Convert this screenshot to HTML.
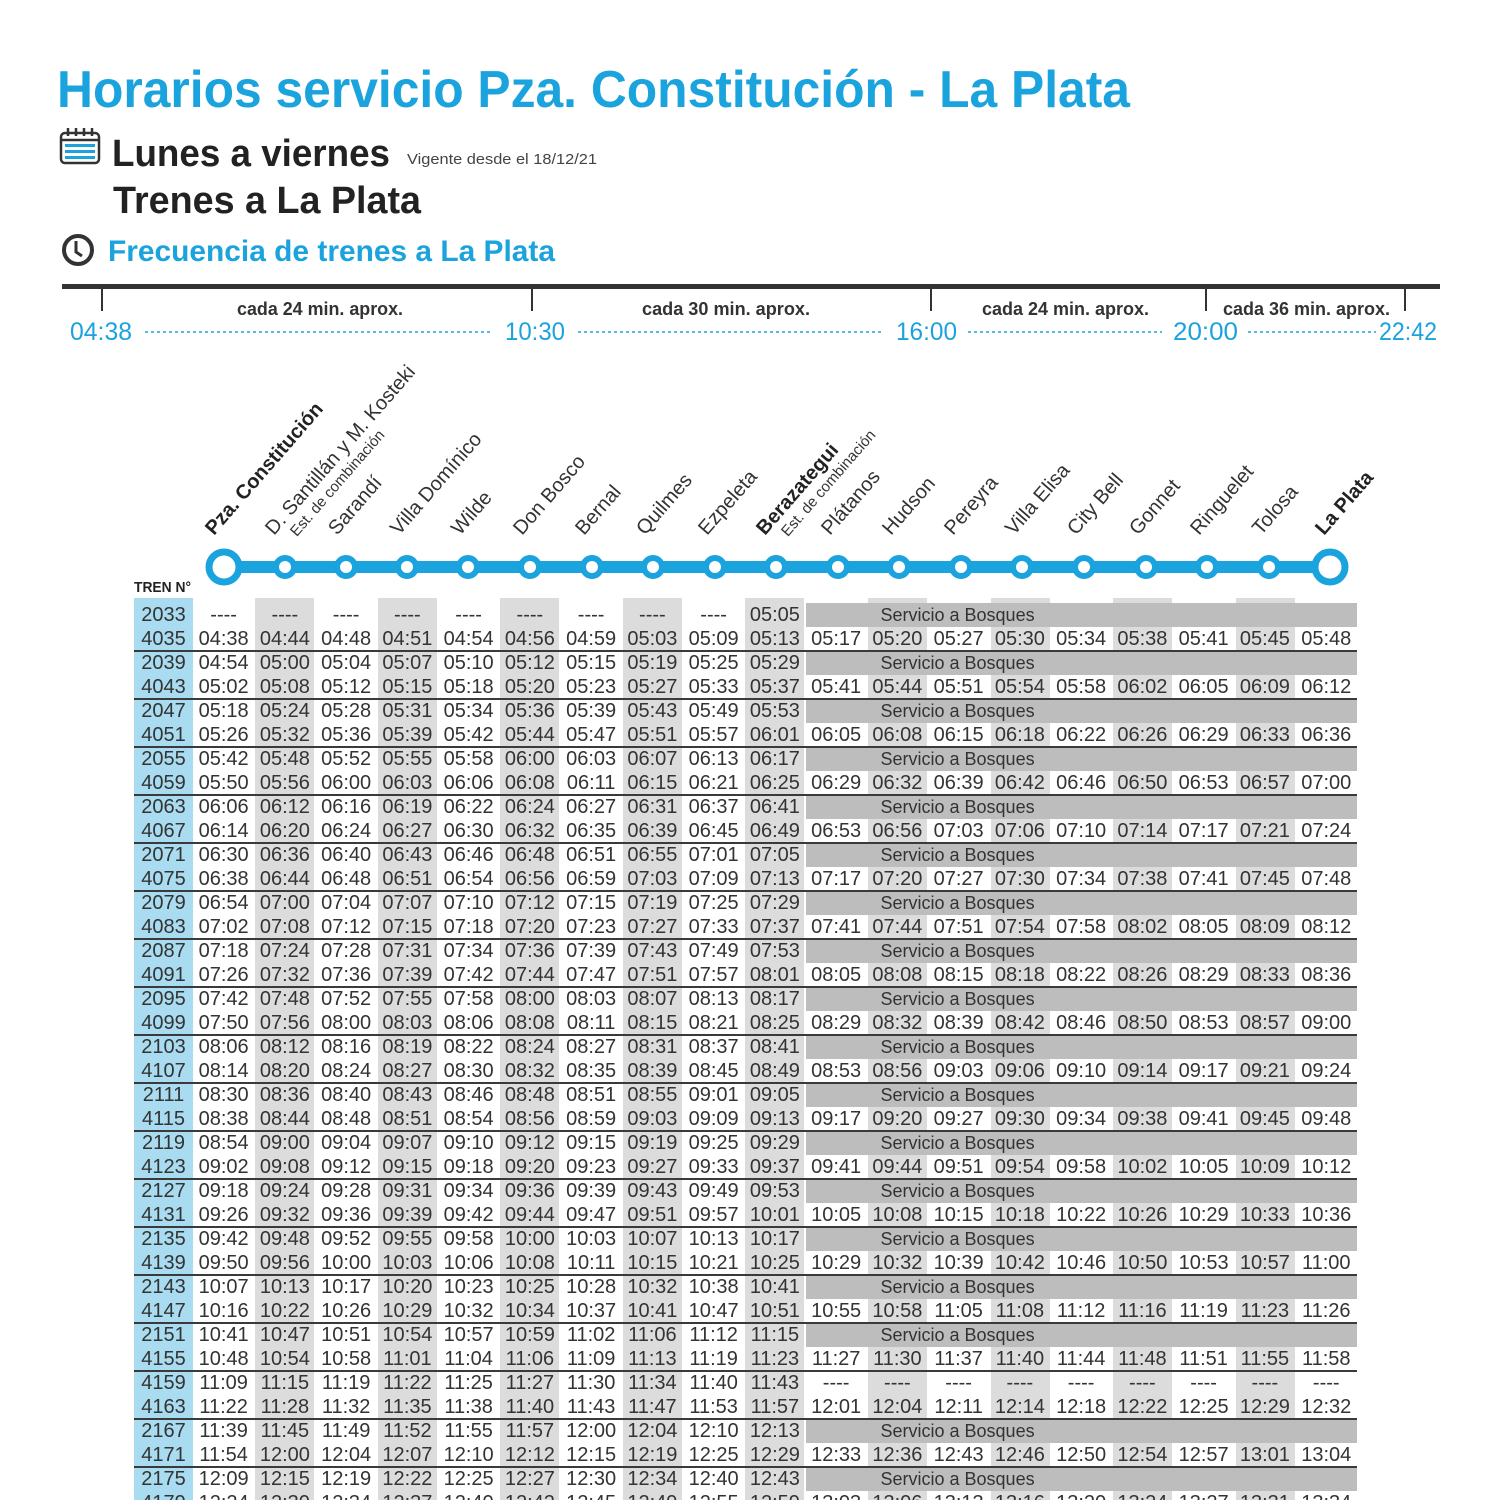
<!DOCTYPE html>
<html><head><meta charset="utf-8">
<style>
html,body{margin:0;padding:0;overflow:hidden;}
#wrap{width:1500px;height:1500px;overflow:hidden;background:#fff;position:relative;font-family:"Liberation Sans",sans-serif;}
.sh{position:absolute;top:598px;height:902px;width:59px;background:#dcdcdc;}
#tc{position:absolute;left:134px;top:598px;width:59px;height:902px;background:#a9dcf0;}
table{position:absolute;left:134px;top:603px;border-collapse:collapse;table-layout:fixed;width:1223px;}
td,th{height:24px;padding:0;font-size:20px;color:#333;text-align:center;font-weight:normal;line-height:24px;white-space:nowrap;overflow:visible;border:0;}
col.t{width:59px;}
td.b{background:#bdbdbd;text-align:left;padding-left:75px;font-size:18px;}
.ln{position:absolute;left:134px;width:1223px;height:2px;background:#3a3a3a;}
</style></head><body><div id="wrap">
<div id="tc"></div>
<div class="sh" style="left:255px"></div>
<div class="sh" style="left:378px"></div>
<div class="sh" style="left:500px"></div>
<div class="sh" style="left:623px"></div>
<div class="sh" style="left:745px"></div>
<div class="sh" style="left:868px"></div>
<div class="sh" style="left:991px"></div>
<div class="sh" style="left:1113px"></div>
<div class="sh" style="left:1236px"></div>

<svg width="1500" height="600" style="position:absolute;left:0;top:0" font-family="Liberation Sans, sans-serif">
<text x="57" y="107" font-size="52" font-weight="bold" fill="#1ba3dd" textLength="1073" lengthAdjust="spacingAndGlyphs">Horarios servicio Pza. Constitución - La Plata</text>
<g stroke="#333" stroke-width="2.5" fill="none">
<rect x="61" y="133" width="38" height="30" rx="4"/>
<line x1="61" y1="140" x2="99" y2="140"/>
<line x1="68" y1="128" x2="68" y2="136"/><line x1="76" y1="128" x2="76" y2="136"/><line x1="84" y1="128" x2="84" y2="136"/><line x1="92" y1="128" x2="92" y2="136"/>
</g>
<g fill="#1ba3dd"><rect x="65" y="144" width="30" height="3"/><rect x="65" y="150" width="30" height="3"/><rect x="65" y="156" width="30" height="3"/></g>
<text x="112" y="166" font-size="38" font-weight="bold" fill="#222" textLength="278" lengthAdjust="spacingAndGlyphs">Lunes a viernes</text>
<text x="407" y="164" font-size="15" fill="#444" textLength="190" lengthAdjust="spacingAndGlyphs">Vigente desde el 18/12/21</text>
<text x="113" y="213" font-size="38" font-weight="bold" fill="#222" textLength="308" lengthAdjust="spacingAndGlyphs">Trenes a La Plata</text>
<circle cx="78" cy="250" r="14" fill="none" stroke="#333" stroke-width="4"/>
<path d="M76 241 V252 L82 256" fill="none" stroke="#333" stroke-width="3"/>
<text x="108" y="261" font-size="30" font-weight="bold" fill="#1ba3dd" textLength="447" lengthAdjust="spacingAndGlyphs">Frecuencia de trenes a La Plata</text>
<rect x="62" y="284" width="1378" height="5" fill="#333"/>
<g stroke="#333" stroke-width="2"><line x1="102" y1="289" x2="102" y2="311"/><line x1="532" y1="289" x2="532" y2="311"/><line x1="931" y1="289" x2="931" y2="311"/><line x1="1206" y1="289" x2="1206" y2="311"/><line x1="1405" y1="289" x2="1405" y2="311"/></g>
<g font-size="18" font-weight="bold" fill="#333">
<text x="237" y="315" textLength="166" lengthAdjust="spacingAndGlyphs">cada 24 min. aprox.</text>
<text x="642" y="315" textLength="168" lengthAdjust="spacingAndGlyphs">cada 30 min. aprox.</text>
<text x="982" y="315" textLength="167" lengthAdjust="spacingAndGlyphs">cada 24 min. aprox.</text>
<text x="1223" y="315" textLength="167" lengthAdjust="spacingAndGlyphs">cada 36 min. aprox.</text>
</g>
<g font-size="25" fill="#1ba3dd">
<text x="70" y="340" textLength="62" lengthAdjust="spacingAndGlyphs">04:38</text>
<text x="505" y="340" textLength="60" lengthAdjust="spacingAndGlyphs">10:30</text>
<text x="896" y="340" textLength="61" lengthAdjust="spacingAndGlyphs">16:00</text>
<text x="1173" y="340" textLength="65" lengthAdjust="spacingAndGlyphs">20:00</text>
<text x="1379" y="340" textLength="58" lengthAdjust="spacingAndGlyphs">22:42</text>
</g>
<g stroke="#1ba3dd" stroke-width="1.5" stroke-dasharray="3 3">
<line x1="145" y1="332" x2="492" y2="332"/><line x1="578" y1="332" x2="884" y2="332"/><line x1="968" y1="332" x2="1162" y2="332"/><line x1="1248" y1="332" x2="1376" y2="332"/>
</g>
<g font-size="20" fill="#333">
<text transform="translate(214,536) rotate(-49)" font-weight="bold" fill="#222">Pza. Constitución</text>
<text transform="translate(274,536) rotate(-49)">D. Santillán y M. Kosteki</text>
<text transform="translate(274,536) rotate(-49)" x="14" y="18" font-size="15">Est. de combinación</text>
<text transform="translate(337,536) rotate(-49)">Sarandí</text>
<text transform="translate(399,536) rotate(-49)">Villa Domínico</text>
<text transform="translate(460,536) rotate(-49)">Wilde</text>
<text transform="translate(522,536) rotate(-49)">Don Bosco</text>
<text transform="translate(584,536) rotate(-49)">Bernal</text>
<text transform="translate(645,536) rotate(-49)">Quilmes</text>
<text transform="translate(707,536) rotate(-49)">Ezpeleta</text>
<text transform="translate(765,536) rotate(-49)" font-weight="bold" fill="#222">Berazategui</text>
<text transform="translate(765,536) rotate(-49)" x="14" y="18" font-size="15">Est. de combinación</text>
<text transform="translate(830,536) rotate(-49)">Plátanos</text>
<text transform="translate(891,536) rotate(-49)">Hudson</text>
<text transform="translate(953,536) rotate(-49)">Pereyra</text>
<text transform="translate(1014,536) rotate(-49)">Villa Elisa</text>
<text transform="translate(1076,536) rotate(-49)">City Bell</text>
<text transform="translate(1138,536) rotate(-49)">Gonnet</text>
<text transform="translate(1199,536) rotate(-49)">Ringuelet</text>
<text transform="translate(1261,536) rotate(-49)">Tolosa</text>
<text transform="translate(1324,536) rotate(-49)" font-weight="bold" fill="#222">La Plata</text>
</g>
<rect x="223" y="561" width="1106" height="12" fill="#1ba3dd"/>
<g fill="#fff" stroke="#1ba3dd" stroke-width="6">
<circle cx="224" cy="567" r="15" stroke-width="7"/>
<circle cx="285" cy="567" r="9"/><circle cx="346" cy="567" r="9"/><circle cx="407" cy="567" r="9"/><circle cx="468" cy="567" r="9"/><circle cx="530" cy="567" r="9"/><circle cx="592" cy="567" r="9"/><circle cx="653" cy="567" r="9"/><circle cx="715" cy="567" r="9"/><circle cx="776" cy="567" r="9"/><circle cx="838" cy="567" r="9"/><circle cx="899" cy="567" r="9"/><circle cx="961" cy="567" r="9"/><circle cx="1022" cy="567" r="9"/><circle cx="1084" cy="567" r="9"/><circle cx="1146" cy="567" r="9"/><circle cx="1207" cy="567" r="9"/><circle cx="1269" cy="567" r="9"/>
<circle cx="1330" cy="567" r="15" stroke-width="7"/>
</g>
<text x="134" y="592" font-size="15" font-weight="bold" fill="#222" textLength="57" lengthAdjust="spacingAndGlyphs">TREN N°</text>
</svg>

<table>
<colgroup><col class="t"><col span="19"></colgroup>
<tr><th>2033<td>----<td>----<td>----<td>----<td>----<td>----<td>----<td>----<td>----<td>05:05<td class="b" colspan="9">Servicio a Bosques</tr>
<tr><th>4035<td>04:38<td>04:44<td>04:48<td>04:51<td>04:54<td>04:56<td>04:59<td>05:03<td>05:09<td>05:13<td>05:17<td>05:20<td>05:27<td>05:30<td>05:34<td>05:38<td>05:41<td>05:45<td>05:48</tr>
<tr><th>2039<td>04:54<td>05:00<td>05:04<td>05:07<td>05:10<td>05:12<td>05:15<td>05:19<td>05:25<td>05:29<td class="b" colspan="9">Servicio a Bosques</tr>
<tr><th>4043<td>05:02<td>05:08<td>05:12<td>05:15<td>05:18<td>05:20<td>05:23<td>05:27<td>05:33<td>05:37<td>05:41<td>05:44<td>05:51<td>05:54<td>05:58<td>06:02<td>06:05<td>06:09<td>06:12</tr>
<tr><th>2047<td>05:18<td>05:24<td>05:28<td>05:31<td>05:34<td>05:36<td>05:39<td>05:43<td>05:49<td>05:53<td class="b" colspan="9">Servicio a Bosques</tr>
<tr><th>4051<td>05:26<td>05:32<td>05:36<td>05:39<td>05:42<td>05:44<td>05:47<td>05:51<td>05:57<td>06:01<td>06:05<td>06:08<td>06:15<td>06:18<td>06:22<td>06:26<td>06:29<td>06:33<td>06:36</tr>
<tr><th>2055<td>05:42<td>05:48<td>05:52<td>05:55<td>05:58<td>06:00<td>06:03<td>06:07<td>06:13<td>06:17<td class="b" colspan="9">Servicio a Bosques</tr>
<tr><th>4059<td>05:50<td>05:56<td>06:00<td>06:03<td>06:06<td>06:08<td>06:11<td>06:15<td>06:21<td>06:25<td>06:29<td>06:32<td>06:39<td>06:42<td>06:46<td>06:50<td>06:53<td>06:57<td>07:00</tr>
<tr><th>2063<td>06:06<td>06:12<td>06:16<td>06:19<td>06:22<td>06:24<td>06:27<td>06:31<td>06:37<td>06:41<td class="b" colspan="9">Servicio a Bosques</tr>
<tr><th>4067<td>06:14<td>06:20<td>06:24<td>06:27<td>06:30<td>06:32<td>06:35<td>06:39<td>06:45<td>06:49<td>06:53<td>06:56<td>07:03<td>07:06<td>07:10<td>07:14<td>07:17<td>07:21<td>07:24</tr>
<tr><th>2071<td>06:30<td>06:36<td>06:40<td>06:43<td>06:46<td>06:48<td>06:51<td>06:55<td>07:01<td>07:05<td class="b" colspan="9">Servicio a Bosques</tr>
<tr><th>4075<td>06:38<td>06:44<td>06:48<td>06:51<td>06:54<td>06:56<td>06:59<td>07:03<td>07:09<td>07:13<td>07:17<td>07:20<td>07:27<td>07:30<td>07:34<td>07:38<td>07:41<td>07:45<td>07:48</tr>
<tr><th>2079<td>06:54<td>07:00<td>07:04<td>07:07<td>07:10<td>07:12<td>07:15<td>07:19<td>07:25<td>07:29<td class="b" colspan="9">Servicio a Bosques</tr>
<tr><th>4083<td>07:02<td>07:08<td>07:12<td>07:15<td>07:18<td>07:20<td>07:23<td>07:27<td>07:33<td>07:37<td>07:41<td>07:44<td>07:51<td>07:54<td>07:58<td>08:02<td>08:05<td>08:09<td>08:12</tr>
<tr><th>2087<td>07:18<td>07:24<td>07:28<td>07:31<td>07:34<td>07:36<td>07:39<td>07:43<td>07:49<td>07:53<td class="b" colspan="9">Servicio a Bosques</tr>
<tr><th>4091<td>07:26<td>07:32<td>07:36<td>07:39<td>07:42<td>07:44<td>07:47<td>07:51<td>07:57<td>08:01<td>08:05<td>08:08<td>08:15<td>08:18<td>08:22<td>08:26<td>08:29<td>08:33<td>08:36</tr>
<tr><th>2095<td>07:42<td>07:48<td>07:52<td>07:55<td>07:58<td>08:00<td>08:03<td>08:07<td>08:13<td>08:17<td class="b" colspan="9">Servicio a Bosques</tr>
<tr><th>4099<td>07:50<td>07:56<td>08:00<td>08:03<td>08:06<td>08:08<td>08:11<td>08:15<td>08:21<td>08:25<td>08:29<td>08:32<td>08:39<td>08:42<td>08:46<td>08:50<td>08:53<td>08:57<td>09:00</tr>
<tr><th>2103<td>08:06<td>08:12<td>08:16<td>08:19<td>08:22<td>08:24<td>08:27<td>08:31<td>08:37<td>08:41<td class="b" colspan="9">Servicio a Bosques</tr>
<tr><th>4107<td>08:14<td>08:20<td>08:24<td>08:27<td>08:30<td>08:32<td>08:35<td>08:39<td>08:45<td>08:49<td>08:53<td>08:56<td>09:03<td>09:06<td>09:10<td>09:14<td>09:17<td>09:21<td>09:24</tr>
<tr><th>2111<td>08:30<td>08:36<td>08:40<td>08:43<td>08:46<td>08:48<td>08:51<td>08:55<td>09:01<td>09:05<td class="b" colspan="9">Servicio a Bosques</tr>
<tr><th>4115<td>08:38<td>08:44<td>08:48<td>08:51<td>08:54<td>08:56<td>08:59<td>09:03<td>09:09<td>09:13<td>09:17<td>09:20<td>09:27<td>09:30<td>09:34<td>09:38<td>09:41<td>09:45<td>09:48</tr>
<tr><th>2119<td>08:54<td>09:00<td>09:04<td>09:07<td>09:10<td>09:12<td>09:15<td>09:19<td>09:25<td>09:29<td class="b" colspan="9">Servicio a Bosques</tr>
<tr><th>4123<td>09:02<td>09:08<td>09:12<td>09:15<td>09:18<td>09:20<td>09:23<td>09:27<td>09:33<td>09:37<td>09:41<td>09:44<td>09:51<td>09:54<td>09:58<td>10:02<td>10:05<td>10:09<td>10:12</tr>
<tr><th>2127<td>09:18<td>09:24<td>09:28<td>09:31<td>09:34<td>09:36<td>09:39<td>09:43<td>09:49<td>09:53<td class="b" colspan="9">Servicio a Bosques</tr>
<tr><th>4131<td>09:26<td>09:32<td>09:36<td>09:39<td>09:42<td>09:44<td>09:47<td>09:51<td>09:57<td>10:01<td>10:05<td>10:08<td>10:15<td>10:18<td>10:22<td>10:26<td>10:29<td>10:33<td>10:36</tr>
<tr><th>2135<td>09:42<td>09:48<td>09:52<td>09:55<td>09:58<td>10:00<td>10:03<td>10:07<td>10:13<td>10:17<td class="b" colspan="9">Servicio a Bosques</tr>
<tr><th>4139<td>09:50<td>09:56<td>10:00<td>10:03<td>10:06<td>10:08<td>10:11<td>10:15<td>10:21<td>10:25<td>10:29<td>10:32<td>10:39<td>10:42<td>10:46<td>10:50<td>10:53<td>10:57<td>11:00</tr>
<tr><th>2143<td>10:07<td>10:13<td>10:17<td>10:20<td>10:23<td>10:25<td>10:28<td>10:32<td>10:38<td>10:41<td class="b" colspan="9">Servicio a Bosques</tr>
<tr><th>4147<td>10:16<td>10:22<td>10:26<td>10:29<td>10:32<td>10:34<td>10:37<td>10:41<td>10:47<td>10:51<td>10:55<td>10:58<td>11:05<td>11:08<td>11:12<td>11:16<td>11:19<td>11:23<td>11:26</tr>
<tr><th>2151<td>10:41<td>10:47<td>10:51<td>10:54<td>10:57<td>10:59<td>11:02<td>11:06<td>11:12<td>11:15<td class="b" colspan="9">Servicio a Bosques</tr>
<tr><th>4155<td>10:48<td>10:54<td>10:58<td>11:01<td>11:04<td>11:06<td>11:09<td>11:13<td>11:19<td>11:23<td>11:27<td>11:30<td>11:37<td>11:40<td>11:44<td>11:48<td>11:51<td>11:55<td>11:58</tr>
<tr><th>4159<td>11:09<td>11:15<td>11:19<td>11:22<td>11:25<td>11:27<td>11:30<td>11:34<td>11:40<td>11:43<td>----<td>----<td>----<td>----<td>----<td>----<td>----<td>----<td>----</tr>
<tr><th>4163<td>11:22<td>11:28<td>11:32<td>11:35<td>11:38<td>11:40<td>11:43<td>11:47<td>11:53<td>11:57<td>12:01<td>12:04<td>12:11<td>12:14<td>12:18<td>12:22<td>12:25<td>12:29<td>12:32</tr>
<tr><th>2167<td>11:39<td>11:45<td>11:49<td>11:52<td>11:55<td>11:57<td>12:00<td>12:04<td>12:10<td>12:13<td class="b" colspan="9">Servicio a Bosques</tr>
<tr><th>4171<td>11:54<td>12:00<td>12:04<td>12:07<td>12:10<td>12:12<td>12:15<td>12:19<td>12:25<td>12:29<td>12:33<td>12:36<td>12:43<td>12:46<td>12:50<td>12:54<td>12:57<td>13:01<td>13:04</tr>
<tr><th>2175<td>12:09<td>12:15<td>12:19<td>12:22<td>12:25<td>12:27<td>12:30<td>12:34<td>12:40<td>12:43<td class="b" colspan="9">Servicio a Bosques</tr>
<tr><th>4179<td>12:24<td>12:30<td>12:34<td>12:37<td>12:40<td>12:42<td>12:45<td>12:49<td>12:55<td>12:59<td>13:03<td>13:06<td>13:13<td>13:16<td>13:20<td>13:24<td>13:27<td>13:31<td>13:34</tr>
</table>
<div class="ln" style="top:650px"></div><div class="ln" style="top:698px"></div><div class="ln" style="top:746px"></div><div class="ln" style="top:794px"></div><div class="ln" style="top:842px"></div><div class="ln" style="top:890px"></div><div class="ln" style="top:938px"></div><div class="ln" style="top:986px"></div><div class="ln" style="top:1034px"></div><div class="ln" style="top:1082px"></div><div class="ln" style="top:1130px"></div><div class="ln" style="top:1178px"></div><div class="ln" style="top:1226px"></div><div class="ln" style="top:1274px"></div><div class="ln" style="top:1322px"></div><div class="ln" style="top:1370px"></div><div class="ln" style="top:1418px"></div><div class="ln" style="top:1466px"></div>
</div></body></html>
